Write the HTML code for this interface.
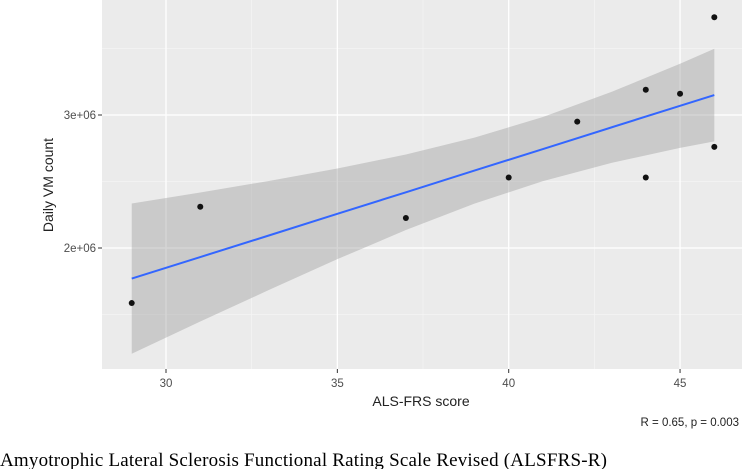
<!DOCTYPE html>
<html><head><meta charset="utf-8"><style>
body{margin:0;width:742px;height:469px;background:#fff;overflow:hidden;font-family:"Liberation Sans",sans-serif}
</style></head><body>
<svg id="chart" width="742" height="469" xmlns="http://www.w3.org/2000/svg">
<rect x="102" y="0" width="641" height="369" fill="#ebebeb"/>
<g id="grid"></g><g id="band"></g><g id="line"></g><g id="pts"></g><g id="axes"></g>
<text x="421" y="406" font-size="14" fill="#222" text-anchor="middle">ALS-FRS score</text>
<text transform="translate(53,185) rotate(-90)" font-size="14" fill="#222" text-anchor="middle">Daily VM count</text>
<text x="739" y="426" font-size="11.5" fill="#222" text-anchor="end">R = 0.65, p = 0.003</text>
<text x="0" y="466" font-size="19" fill="#000" font-family="Liberation Serif, serif" textLength="607">Amyotrophic Lateral Sclerosis Functional Rating Scale Revised (ALSFRS-R)</text>
</svg>
<script>
const xs=[29,31,37,40,42,44,44,45,46,46];
const ys=[1.586,2.31,2.226,2.53,2.95,3.19,2.53,3.16,3.735,2.76];
const fitX=[29,31,33,35,37,39,41,43,45,46];
const fitY=[1.77,1.932,2.094,2.257,2.419,2.582,2.744,2.907,3.069,3.15];
const bandHalf=[0.565,0.485,0.41,0.341,0.284,0.248,0.241,0.267,0.316,0.348];
const xTicks=[30,35,40,45];
const yTicks=[2,3];
const yTickLabels=["2e+06","3e+06"];
const X=v=>166+(v-30)*34.27;
const Y=v=>115-(v-3)*133;
const NS="http://www.w3.org/2000/svg";
function mk(t,a,p){const e=document.createElementNS(NS,t);for(const k in a)e.setAttribute(k,a[k]);document.getElementById(p).appendChild(e);return e;}
[32.5,37.5,42.5].forEach(v=>{const e=mk('line',{x1:X(v),x2:X(v),y1:0,y2:369,stroke:'#f5f5f5','stroke-width':0.7},'grid');

});
[1.5,2.5,3.5].forEach(v=>{const e=mk('line',{x1:102,x2:743,y1:Y(v),y2:Y(v),stroke:'#f5f5f5','stroke-width':0.7},'grid');

});
xTicks.forEach(v=>{const e=mk('line',{x1:X(v),x2:X(v),y1:0,y2:369,stroke:'#fff','stroke-width':1.3},'grid');


const t=mk('line',{x1:X(v),x2:X(v),y1:369,y2:373,stroke:'#333'},'axes');


const l=mk('text',{x:X(v),y:387,'font-size':11.5,fill:'#4d4d4d','text-anchor':'middle'},'axes');l.textContent=v;

});
yTicks.forEach((v,i)=>{const e=mk('line',{x1:102,x2:743,y1:Y(v),y2:Y(v),stroke:'#fff','stroke-width':1.3},'grid');


const t=mk('line',{x1:98,x2:102,y1:Y(v),y2:Y(v),stroke:'#333'},'axes');


const l=mk('text',{x:96,y:Y(v)+4,'font-size':11.5,fill:'#4d4d4d','text-anchor':'end'},'axes');l.textContent=yTickLabels[i];

});
let up=fitX.map((x,i)=>X(x)+','+Y(fitY[i]+bandHalf[i]));
let lo=fitX.map((x,i)=>X(x)+','+Y(fitY[i]-bandHalf[i])).reverse();
const b=mk('polygon',{points:up.concat(lo).join(' '),fill:'#999','fill-opacity':0.4},'band');


const ln=mk('polyline',{points:fitX.map((x,i)=>X(x)+','+Y(fitY[i])).join(' '),fill:'none',stroke:'#3366ff','stroke-width':2},'line');


xs.forEach((x,i)=>{const c=mk('circle',{cx:X(x),cy:Y(ys[i]),r:3,fill:'#111'},'pts');

});
</script>
</body></html>
